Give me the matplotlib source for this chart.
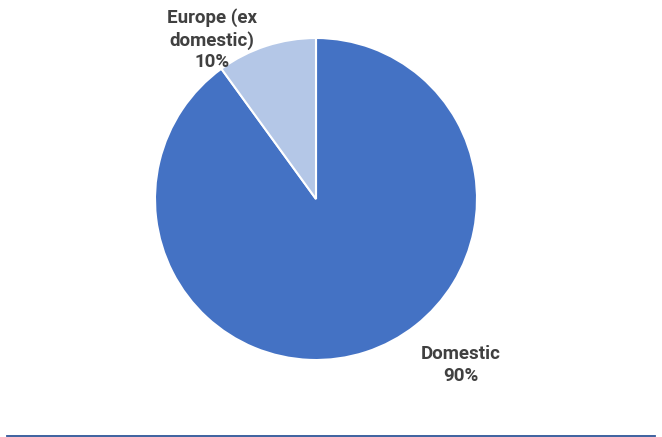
import matplotlib.pyplot as plt
from matplotlib.lines import Line2D

plt.rcParams['font.family'] = ['Roboto', 'DejaVu Sans']

# data
labels = ['Domestic', 'Europe (ex\ndomestic)']
shares = [90, 10]
colors = ['#4472C4', '#B4C7E7']

fig = plt.figure(figsize=(6.62, 4.37), dpi=100)
ax = fig.add_axes([0, 0, 1, 1])

ax.pie(shares, colors=colors, startangle=90, counterclock=False,
       radius=1, wedgeprops=dict(edgecolor='white', linewidth=1.5))

# axis range so the pie sits at the same spot
ax.set_xlim(-316 / 161, (662 - 316) / 161)
ax.set_ylim((199 - 437) / 161, 199 / 161)
ax.set_aspect('equal')
ax.axis('off')

# label positions
label_pos = [(0.90, -1.03), (-0.645, 0.99)]
for lab, val, (x, y) in zip(labels, shares, label_pos):
    ax.text(x, y, f'{lab}\n{val}%', ha='center', va='center',
            fontsize=13.5, fontweight='bold', color='#404040',
            linespacing=1.28)

fig.add_artist(Line2D([7 / 662, 655 / 662], [1.5 / 437, 1.5 / 437],
                      color='#2F5597', linewidth=1.3))

fig.savefig('out.png', dpi=100)
